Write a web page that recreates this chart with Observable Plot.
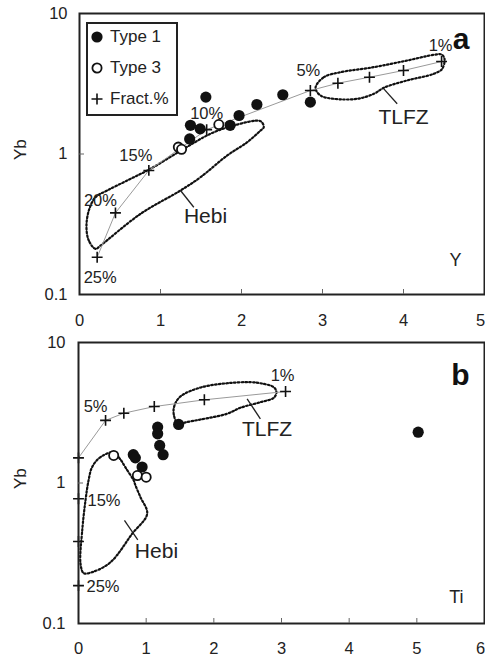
<!DOCTYPE html>
<html><head><meta charset="utf-8">
<script src="https://cdn.jsdelivr.net/npm/d3@7"></script>
<script src="https://cdn.jsdelivr.net/npm/@observablehq/plot@0.6"></script>
<style>
body{margin:0;background:#fff;font-family:"Liberation Sans",Arial,sans-serif;color:#222;}
#wrap{position:relative;width:485px;height:658px;overflow:hidden;}
#pa{position:absolute;left:0;top:0;}
#pb{position:absolute;left:0;top:330px;}
#legend{position:absolute;left:86px;top:22px;width:88px;height:90px;border:2px solid #222;background:#fff;font-size:17px;}
#legend .row{position:absolute;left:0;height:20px;line-height:20px;white-space:nowrap;}
#legend svg{position:absolute;left:2px;top:3px;}
#legend span{position:absolute;left:22px;top:0;}
</style></head>
<body><div id="wrap"><div id="pa"></div><div id="pb"></div>
<div id="legend"></div></div>
<script>
// ---------- data ----------
// Panel a: Y vs Yb
const type1A_Y  = [1.56, 1.37, 1.49, 1.36, 1.86, 1.97, 2.19, 2.51, 2.85];
const type1A_Yb = [2.54, 1.60, 1.51, 1.28, 1.60, 1.88, 2.25, 2.64, 2.34];
const type3A_Y  = [1.72, 1.22, 1.26];
const type3A_Yb = [1.62, 1.12, 1.08];
const fractPct  = ["1%", "2%", "3%", "4%", "5%", "10%", "15%", "20%", "25%"];
const fractA_Y  = [4.47, 4.00, 3.58, 3.19, 2.85, 1.57, 0.856, 0.444, 0.218];
const fractA_Yb = [4.55, 3.93, 3.52, 3.19, 2.83, 1.49, 0.764, 0.381, 0.184];
// Panel b: Ti vs Yb
const type1B_Ti = [1.48, 1.17, 1.17, 1.20, 1.25, 0.81, 0.84, 0.94, 5.02];
const type1B_Yb = [2.61, 2.50, 2.24, 1.85, 1.59, 1.59, 1.51, 1.30, 2.30];
const type3B_Ti = [0.52, 0.87, 1.00];
const type3B_Yb = [1.57, 1.13, 1.10];
const fractB_Ti = [3.06, 1.86, 1.12, 0.67, 0.40, 0, 0, 0, 0];
const fractB_Yb = [4.48, 3.91, 3.50, 3.14, 2.79, 1.51, 0.772, 0.383, 0.186];
// field envelopes [x, Yb]
const tlfzA = [[2.914,2.96],[3.016,3.52],[3.222,3.82],[3.633,4.15],[4.046,4.63],[4.374,5.08],[4.469,5.11],[4.506,4.76],[4.478,4.04],[4.374,3.72],[4.046,3.34],[3.757,2.96],[3.633,2.68],[3.428,2.47],[3.140,2.47],[2.975,2.61]];
const hebiA = [[0.198,0.211],[0.115,0.242],[0.086,0.301],[0.115,0.396],[0.198,0.493],[0.342,0.550],[0.589,0.648],[0.877,0.785],[1.288,1.089],[1.617,1.393],[1.905,1.596],[2.235,1.712],[2.275,1.552],[2.235,1.469],[2.070,1.213],[1.823,0.976],[1.494,0.684],[1.247,0.550],[0.753,0.375],[0.259,0.223]];
const tlfzB = [[1.477,2.61],[1.408,3.07],[1.418,3.56],[1.507,4.13],[1.802,4.78],[2.196,5.13],[2.540,5.22],[2.688,5.13],[2.885,4.81],[2.925,4.43],[2.885,4.04],[2.688,3.76],[2.393,3.43],[2.196,3.11],[1.802,2.83],[1.581,2.70]];
const hebiB = [[0.521,1.65],[0.325,1.53],[0.202,1.30],[0.148,1.04],[0.103,0.75],[0.055,0.459],[0.030,0.266],[0.078,0.228],[0.202,0.232],[0.473,0.273],[0.793,0.435],[1.015,0.604],[0.916,0.792],[0.842,0.960],[0.817,1.04],[0.694,1.29],[0.620,1.47]];
// field labels and their leader lines
const fieldNames = ["TLFZ", "Hebi"];
const fieldLabelA = [[4.0, 1.83], [1.556, 0.359]];
const leaderA = [[3.757, 2.91, 3.922, 2.28], [1.247, 0.550, 1.411, 0.418]];
const fieldLabelB = [[2.787, 2.43], [1.152, 0.327]];
const leaderB = [[2.492, 3.97, 2.688, 2.86], [0.679, 0.541, 0.876, 0.394]];
// ticks
const xTicksA = [0, 1, 2, 3, 4, 5];
const xTicksB = [0, 1, 2, 3, 4, 5, 6];
const yTicks = [0.1, 1, 10];
const legendLabels = ["Type 1", "Type 3", "Fract.%"];

// ---------- drawing ----------
const FONT = '"Liberation Sans", Arial, sans-serif';
const INK = "#222";
const idx = n => d3.range(n);

function panel(o) {
  const marks = [];
  const env = {stroke: "#111", strokeWidth: 2.2, strokeDasharray: "1.6,2.2", curve: "catmull-rom-closed", x: d => d[0], y: d => d[1]};
  marks.push(Plot.line(o.tlfz, env));
  marks.push(Plot.line(o.hebi, env));
  marks.push(Plot.link(o.leaders, {x1: d => d[0], y1: d => d[1], x2: d => d[2], y2: d => d[3], stroke: INK, strokeWidth: 1.3}));
  marks.push(Plot.text(fieldNames, {x: (d, i) => o.fieldLabel[i][0], y: (d, i) => o.fieldLabel[i][1], text: d => d, fontSize: 21, fill: INK}));
  marks.push(Plot.line(idx(o.lineN), {x: i => o.fx[i], y: i => o.fy[i], stroke: "#9a9a9a", strokeWidth: 1}));
  marks.push(Plot.dot(idx(o.fx.length), {x: i => o.fx[i], y: i => o.fy[i], symbol: "plus", r: 3.6, stroke: "#111", strokeWidth: 1.6}));
  marks.push(Plot.dot(idx(o.t3x.length), {x: i => o.t3x[i], y: i => o.t3y[i], r: 4.6, fill: "white", stroke: "#111", strokeWidth: 1.8}));
  marks.push(Plot.dot(idx(o.t1x.length), {x: i => o.t1x[i], y: i => o.t1y[i], r: 5.6, fill: "#111", stroke: "none"}));
  for (const L of o.pctLabels) {
    marks.push(Plot.text([L.i], {x: i => o.fx[i], y: i => o.fy[i], text: i => fractPct[i], dx: L.dx, dy: L.dy, textAnchor: L.anchor || "middle", fontSize: 16.5, fill: INK}));
  }
  marks.push(Plot.frame({stroke: INK, strokeWidth: 2}));
  const xt = o.xTicks;
  marks.push(Plot.axisX({ticks: xt.slice(0, -1), tickSize: 0, tickPadding: o.xPad, tickFormat: d => String(d), label: null, fontSize: 16.5, fill: INK}));
  marks.push(Plot.axisX({ticks: xt.slice(-1), tickSize: 0, tickPadding: o.xPad, tickFormat: d => String(d), label: null, fontSize: 16.5, fill: INK, dx: -4}));
  marks.push(Plot.axisX({ticks: xt.slice(1, -1), tickSize: -5, tickFormat: () => "", label: null, stroke: "#666"}));
  marks.push(Plot.axisY({ticks: yTicks, tickSize: 0, tickPadding: o.yPad, tickFormat: d => String(d), label: null, fontSize: 16.5, fill: INK}));
  marks.push(Plot.axisY({ticks: [1], tickSize: -5, tickFormat: () => "", label: null, stroke: "#666"}));
  marks.push(Plot.text(["Yb"], {frameAnchor: "left", rotate: -90, dx: o.ybDx, dy: 6, fontSize: 17, fill: INK}));
  marks.push(Plot.text([o.elem], {frameAnchor: "bottom-right", dx: o.elemDx, dy: o.elemDy, fontSize: 18, fill: INK}));
  marks.push(Plot.text([o.tag], {frameAnchor: "top-right", dx: -15, dy: o.tagDy, fontSize: 30, fontWeight: "bold", fill: "#111"}));
  return Plot.plot({
    width: 485, height: o.height,
    marginLeft: o.ml, marginRight: 1, marginTop: o.mt, marginBottom: o.mb,
    style: {fontFamily: FONT, background: "transparent", overflow: "visible"},
    x: {domain: o.xDomain},
    y: {type: "log", domain: [0.1, 10]},
    marks
  });
}

document.getElementById("pa").append(panel({
  height: 330, ml: 79, mt: 13, mb: 36, xDomain: [0, 5], xTicks: xTicksA, xPad: 20, yPad: 12,
  tlfz: tlfzA, hebi: hebiA, leaders: leaderA, fieldLabel: fieldLabelA,
  fx: fractA_Y, fy: fractA_Yb, lineN: 9,
  t1x: type1A_Y, t1y: type1A_Yb, t3x: type3A_Y, t3y: type3A_Yb,
  pctLabels: [{i: 0, dx: -1, dy: -16}, {i: 4, dx: -2, dy: -20}, {i: 5, dx: 0, dy: -16}, {i: 6, dx: -13, dy: -15}, {i: 7, dx: -15, dy: -12}, {i: 8, dx: 3, dy: 20}],
  ybDx: -59, elem: "Y", elemDx: -23, elemDy: -29, tag: "a", tagDy: 14.5
}));
document.getElementById("pb").append(panel({
  height: 328, ml: 78, mt: 12, mb: 35, xDomain: [0, 6], xTicks: xTicksB, xPad: 19, yPad: 13,
  tlfz: tlfzB, hebi: hebiB, leaders: leaderB, fieldLabel: fieldLabelB,
  fx: fractB_Ti, fy: fractB_Yb, lineN: 6,
  t1x: type1B_Ti, t1y: type1B_Yb, t3x: type3B_Ti, t3y: type3B_Yb,
  pctLabels: [{i: 0, dx: -3, dy: -16}, {i: 4, dx: -10, dy: -14}, {i: 6, dx: 9, dy: 2, anchor: "start"}, {i: 8, dx: 8, dy: 1, anchor: "start"}],
  ybDx: -58, elem: "Ti", elemDx: -21, elemDy: -21, tag: "b", tagDy: 21.5
}));

// legend (HTML overlay inside panel a)
const lg = document.getElementById("legend");
const icons = [
  '<circle cx="7" cy="7" r="5.6" fill="#111"/>',
  '<circle cx="7" cy="7" r="4.6" fill="#fff" stroke="#111" stroke-width="1.8"/>',
  '<path d="M1.5 7H12.5M7 1.5V12.5" stroke="#111" stroke-width="1.6"/>'
];
legendLabels.forEach((t, i) => {
  const row = document.createElement("div");
  row.className = "row";
  row.style.top = (3 + i * 31) + "px";
  row.style.width = "86px";
  row.innerHTML = `<svg width="14" height="14">${icons[i]}</svg><span>${t}</span>`;
  lg.append(row);
});
</script>
</body></html>
